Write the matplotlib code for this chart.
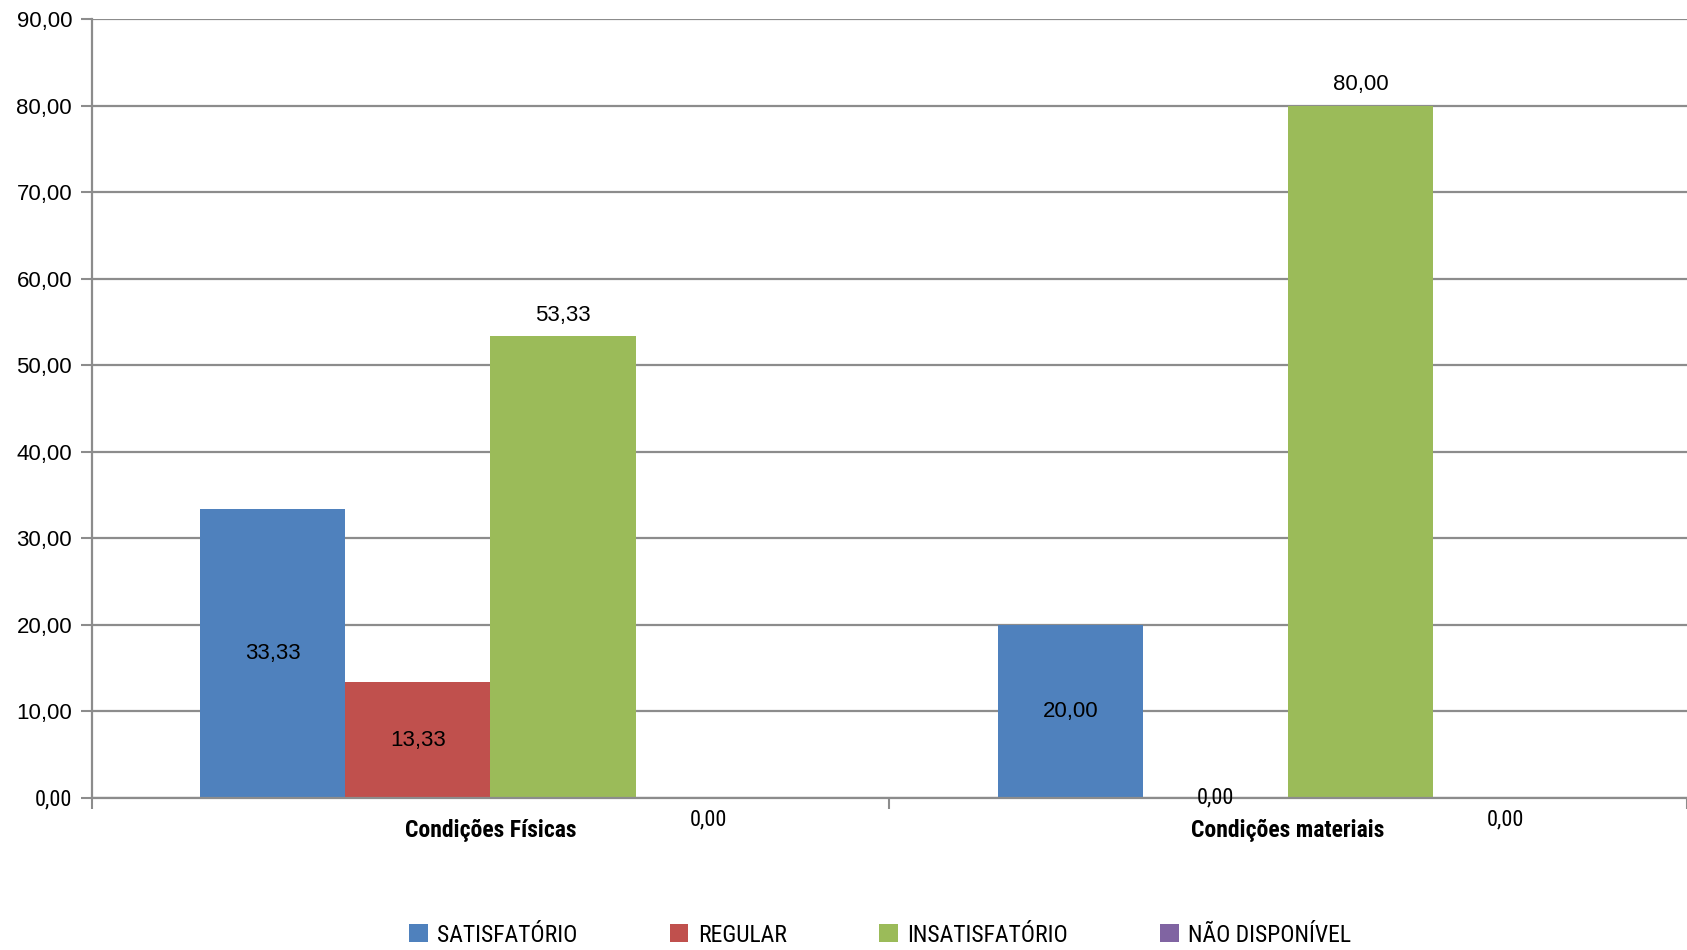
import numpy as np
import matplotlib
matplotlib.use("Agg")
import matplotlib.pyplot as plt
from matplotlib.patches import Patch
from matplotlib import font_manager

# =========================
# DATA
# =========================
categories = ["Condições Físicas", "Condições materiais"]
series = ["SATISFATÓRIO", "REGULAR", "INSATISFATÓRIO", "NÃO DISPONÍVEL"]
satisfatorio = [33.33, 20.00]
regular = [13.33, 0.00]
insatisfatorio = [53.33, 80.00]
nao_disponivel = [0.00, 0.00]
yticks = [0, 10, 20, 30, 40, 50, 60, 70, 80, 90]

values = [satisfatorio, regular, insatisfatorio, nao_disponivel]
colors = ["#4F81BD", "#C0504D", "#9BBB59", "#8064A2"]
# where the data label goes for each series
label_pos = ["center", "center", "above", "below"]

def fmt(v):
    return f"{v:.2f}".replace(".", ",")

# look for a condensed face, the legend/category text in the original is narrow
narrow_name = None
for cand in ["Liberation Sans Narrow", "DejaVu Sans Condensed", "Roboto Condensed",
             "Open Sans Condensed"]:
    try:
        font_manager.findfont(cand, fallback_to_default=False)
        narrow_name = cand
        break
    except Exception:
        pass

plt.rcParams["font.family"] = ["Liberation Sans", "DejaVu Sans"]
if narrow_name:
    narrow = [narrow_name, "Liberation Sans", "DejaVu Sans"]
    leg_size, leg_spacing, cat_size = 17, 3.9, 17
else:
    narrow = ["Liberation Sans", "DejaVu Sans"]
    leg_size, leg_spacing, cat_size = 16, 2.3, 15
grid_col = "#8C8C8C"

fig = plt.figure(figsize=(16.87, 9.5), dpi=100)
ax = fig.add_axes([91.5 / 1687, 1 - 797.7 / 950, 1 - 91.5 / 1687, (797.7 - 19) / 950])

x = np.arange(len(categories))
w = 0.182

for i, (vals, col, pos) in enumerate(zip(values, colors, label_pos)):
    xs = x + (i - 1.5) * w
    ax.bar(xs, vals, width=w, color=col, zorder=3, label=series[i])
    for xi, v in zip(xs, vals):
        if pos == "center":
            ax.annotate(fmt(v), (xi, v / 2), ha="center", va="center",
                        fontsize=16, zorder=5,
                        family=narrow if v == 0 else None)
        elif pos == "above":
            ax.annotate(fmt(v), (xi, v), xytext=(0, 15), textcoords="offset points",
                        ha="center", va="center", fontsize=16, zorder=5)
        else:
            ax.annotate(fmt(v), (xi, v), xytext=(0, -16), textcoords="offset points",
                        ha="center", va="center", fontsize=16, zorder=5, family=narrow)

ax.set_xlim(-0.5, 1.5)
ax.set_ylim(0, 90)
ax.set_yticks(yticks)
ax.set_yticklabels([fmt(t) for t in yticks], fontsize=16)
ax.get_yticklabels()[0].set_family(narrow)
ax.tick_params(axis="y", length=8, width=1.5, color=grid_col, pad=6)

# category boundaries as major ticks, names as minor ticks
ax.set_xticks([-0.5, 0.5, 1.5])
ax.set_xticklabels([])
ax.tick_params(axis="x", which="major", length=8, width=1.5, color=grid_col)
ax.set_xticks(x, minor=True)
ax.set_xticklabels(categories, minor=True, fontsize=cat_size, fontweight="bold", family=narrow)
ax.tick_params(axis="x", which="minor", length=0, pad=15)

ax.grid(axis="y", color=grid_col, linewidth=1.6, zorder=0)
for s in ["top", "right"]:
    ax.spines[s].set_visible(False)
for s in ["left", "bottom"]:
    ax.spines[s].set_color(grid_col)
    ax.spines[s].set_linewidth(1.6)
    ax.spines[s].set_zorder(4)

handles = [Patch(facecolor=c, edgecolor="none") for c in colors]
fig.legend(handles, series, loc="center", bbox_to_anchor=(880 / 1687, 1 - 935 / 950),
           ncol=4, frameon=False, handlelength=0.8, handleheight=0.8,
           handletextpad=0.4, columnspacing=leg_spacing,
           prop={"family": narrow, "size": leg_size})

fig.savefig("out.png", dpi=100)
